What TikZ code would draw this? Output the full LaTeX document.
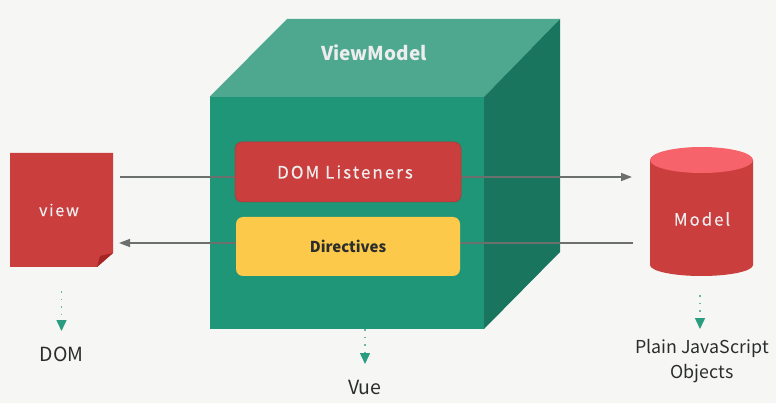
\documentclass[tikz,border=0pt]{standalone}
\usepackage{fontspec}
\setmainfont{Noto Sans CJK SC}
\usetikzlibrary{arrows.meta}
\definecolor{bgc}{HTML}{F6F6F5}
\definecolor{frontc}{HTML}{1F9678}
\definecolor{topc}{HTML}{4DA88F}
\definecolor{sidec}{HTML}{19755D}
\definecolor{redc}{HTML}{CB3E3E}
\definecolor{redtop}{HTML}{F7636A}
\definecolor{foldc}{HTML}{A52424}
\definecolor{yellowc}{HTML}{FCC94A}
\definecolor{linec}{HTML}{6B6F6D}
\definecolor{dotc}{HTML}{2A9C80}
\definecolor{textc}{HTML}{2B2D2D}
\tikzset{
  flow/.style={draw=linec,line width=1.5pt},
  flowtip/.style={flow,-{Triangle[length=11pt,width=8pt]}},
  dots/.style={draw=dotc!70!bgc,line width=1.5pt,dash pattern=on 1.5pt off 6pt,
    -{Triangle[length=11pt,width=10pt,fill=dotc,color=dotc]}},
  inner/.style={rounded corners=7pt,minimum width=225pt,minimum height=60pt,inner sep=0pt},
  light/.style={text=white!93!black},
  caption/.style={text=textc,align=center,font=\fontsize{19.5}{25}\selectfont},
}
\begin{document}
\begin{tikzpicture}[x=1pt,y=-1pt]
\useasboundingbox (0,0) rectangle (776,403);
\fill[bgc] (0,0) rectangle (776,403);
% cube
\fill[topc] (209.5,97) -- (287,19) -- (560,19) -- (484,97) -- cycle;
\fill[sidec] (484,97) -- (560,19) -- (560,252) -- (484,329) -- cycle;
\fill[frontc] (209.5,97) rectangle (484,329);
\node[light,font=\bfseries\fontsize{19}{20}\selectfont] (vm) at (374,53) {ViewModel};
% end anchors of the connectors
\coordinate (vr) at (119.5,177);
\coordinate (vl) at (119,243);
\coordinate (mr) at (632,177);
\coordinate (ml) at (632.5,243);
\draw[flowtip] (vr) -- (mr);
\draw[flowtip] (ml) -- (vl);
% inner boxes
\node[inner,fill=redc,draw=redc!85!black,line width=.5pt,minimum width=226pt,light,
  font=\fontsize{17}{18}\selectfont\addfontfeature{LetterSpace=12,FakeBold=0.3}] (listen) at (348,172) {\hspace*{-6pt}DOM Listeners};
\node[inner,fill=yellowc,minimum width=224pt,minimum height=59pt,text=textc,font=\bfseries\fontsize{15}{16}\selectfont] (direct) at (348,246.5) {Directives};
% view page
\fill[redc] (10,153) -- (113,153) -- (113,253) -- (97,267) -- (10,267) -- cycle;
\fill[foldc] (113,253) -- (97,267) -- (100,256) -- cycle;
\node[light,font=\fontsize{16}{18}\selectfont\addfontfeature{LetterSpace=11,FakeBold=0.3}] (view) at (59,210) {view};
% cylinder
\fill[redc] (650,160) -- (650,265) arc[start angle=180,end angle=360,x radius=51.5pt,y radius=11pt] -- (753,160) -- cycle;
\fill[redtop] (701.5,160) ellipse[x radius=51.5pt,y radius=13pt];
\node[light,font=\fontsize{17}{18}\selectfont\addfontfeature{LetterSpace=11,FakeBold=0.3}] (model) at (702,219) {Model};
% captions
\node[caption] (dom) at (61.5,354) {DOM};
\node[caption] (vue) at (365,387) {Vue};
\node[caption,font=\fontsize{17.8}{25}\selectfont] (plain) at (702,361.5) {Plain JavaScript\\Objects};
% dotted arrows
\coordinate (a1) at (61.5,291);
\coordinate (a2) at (61.5,331);
\coordinate (b1) at (365,329);
\coordinate (b2) at (365,364);
\coordinate (c1) at (700,295);
\coordinate (c2) at (700,329);
\draw[dots] (a1) -- (a2);
\draw[dots] (b1) -- (b2);
\draw[dots] (c1) -- (c2);
\end{tikzpicture}
\end{document}
